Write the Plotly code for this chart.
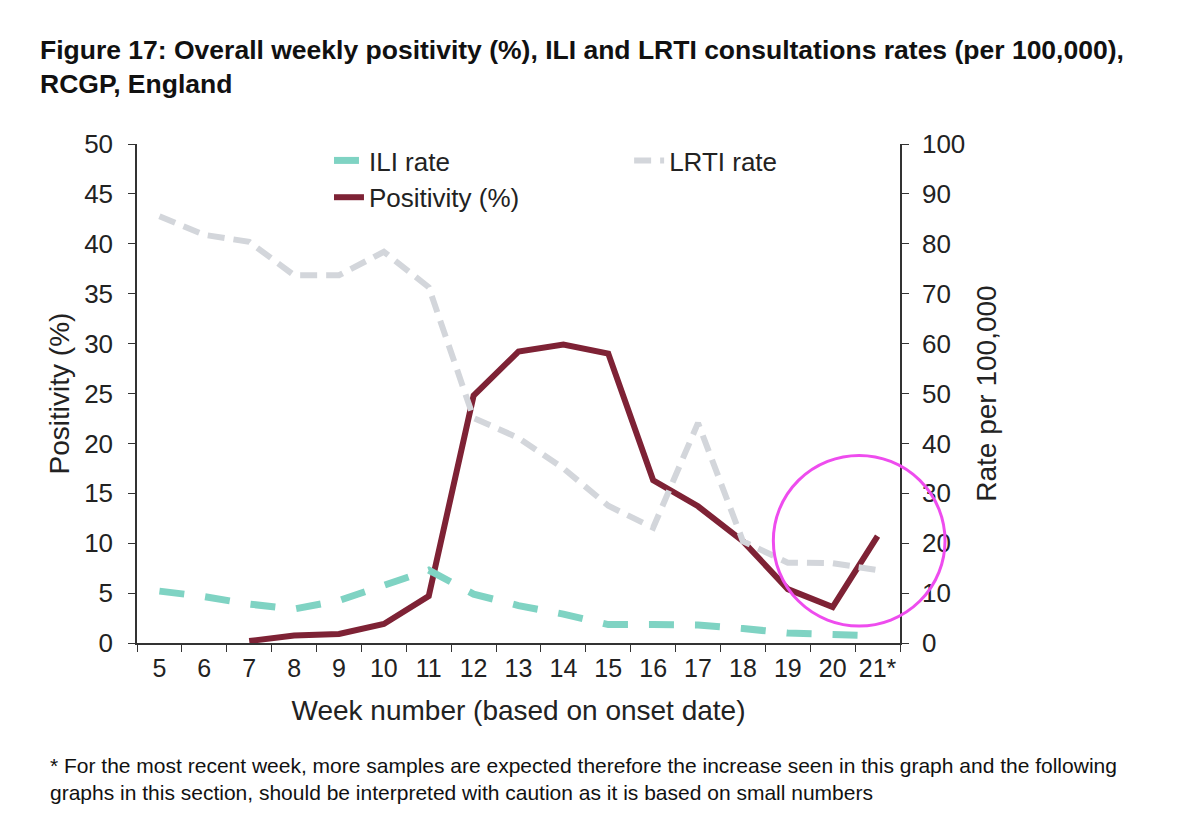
import plotly.graph_objects as go

# Dados (semanas 5 a 21*)
semanas = ["5", "6", "7", "8", "9", "10", "11", "12", "13", "14", "15", "16", "17", "18", "19", "20", "21*"]

positividade = [None, None, 0.2, 0.75, 0.9, 1.9, 4.7, 24.8, 29.2, 29.9, 29.0, 16.3, 13.7, 10.2, 5.4, 3.6, 10.7]
taxa_ili = [10.4, 9.3, 7.8, 6.8, 8.5, 11.5, 14.6, 9.8, 7.5, 5.8, 3.7, 3.7, 3.6, 2.9, 2.0, 1.7, 1.4]
taxa_lrti = [85.5, 81.8, 80.4, 73.7, 73.7, 78.4, 71.3, 45.1, 41.1, 35.0, 27.5, 23.1, 44.1, 20.4, 16.1, 16.0, 14.6]

ticks_esq = list(range(0, 51, 5))
ticks_dir = list(range(0, 101, 10))

FONTE = "Liberation Sans, Arial, sans-serif"
COR_TEXTO = "#222222"

fig = go.Figure()

fig.add_trace(go.Scatter(
    x=semanas, y=taxa_ili, name="ILI rate", mode="lines",
    line=dict(color="#7fd3c3", width=7, dash="25px,21px"),
    yaxis="y2", legend="legend"
))

fig.add_trace(go.Scatter(
    x=semanas, y=taxa_lrti, name="LRTI rate", mode="lines",
    line=dict(color="#d3d6db", width=6, dash="17px,9px"),
    yaxis="y2", legend="legend2"
))

fig.add_trace(go.Scatter(
    x=semanas, y=positividade, name="Positivity (%)", mode="lines",
    line=dict(color="#7e2235", width=6),
    connectgaps=False, legend="legend"
))

# Círculo de destaque (última semana)
fig.add_shape(
    type="circle", xref="paper", yref="paper",
    x0=0.834, x1=1.059, y0=0.034, y1=0.376,
    line=dict(color="#ee4cee", width=3)
)

fig.update_layout(
    width=1200, height=840,
    paper_bgcolor="white", plot_bgcolor="white",
    margin=dict(l=129, r=308, t=136, b=205),
    font=dict(family=FONTE, size=26, color=COR_TEXTO),
    title=dict(
        text="<b>Figure 17: Overall weekly positivity (%), ILI and LRTI consultations rates (per 100,000),<br>RCGP, England</b>",
        x=32 / 1200, xanchor="left", y=1 - 51 / 840, yanchor="top",
        font=dict(family=FONTE, size=26.5, color="#111111")
    ),
    xaxis=dict(
        type="category", range=[-0.5, 16.5],
        showline=True, linecolor="#333333", linewidth=1.5,
        ticks="outside", ticklen=7, tickcolor="#333333", tickson="boundaries",
        tickangle=0, ticklabelstandoff=2,
        showgrid=False, zeroline=False,
        title=dict(text="Week number (based on onset date)", standoff=20,
                   font=dict(size=28)),
        tickfont=dict(size=25)
    ),
    yaxis=dict(
        range=[0, 50], tickvals=ticks_esq,
        showline=True, linecolor="#333333", linewidth=1.5,
        ticks="outside", ticklen=7, tickcolor="#333333",
        ticklabelstandoff=10,
        showgrid=False, zeroline=False,
        title=dict(text="Positivity (%)", standoff=6, font=dict(size=28)),
        tickfont=dict(size=26)
    ),
    yaxis2=dict(
        range=[0, 100], tickvals=ticks_dir,
        overlaying="y", side="right",
        showline=True, linecolor="#333333", linewidth=1.5,
        ticks="outside", ticklen=7, tickcolor="#333333",
        ticklabelstandoff=8,
        showgrid=False, zeroline=False,
        title=dict(text="Rate per 100,000", standoff=12, font=dict(size=28)),
        tickfont=dict(size=26)
    ),
    legend=dict(
        x=0.2516, xanchor="left", y=1.014, yanchor="top",
        bgcolor="rgba(0,0,0,0)", font=dict(size=26), tracegroupgap=0
    ),
    legend2=dict(
        x=0.645, xanchor="left", y=1.014, yanchor="top",
        bgcolor="rgba(0,0,0,0)", font=dict(size=26)
    ),
    showlegend=True,
    annotations=[
        dict(
            text="* For the most recent week, more samples are expected therefore the increase seen in this graph and the following<br>graphs in this section, should be interpreted with caution as it is based on small numbers",
            xref="paper", yref="paper", x=-0.1166, y=-0.2194,
            xanchor="left", yanchor="top", align="left", showarrow=False,
            font=dict(size=21, color="#111111")
        )
    ]
)

fig.write_html("out.html")
